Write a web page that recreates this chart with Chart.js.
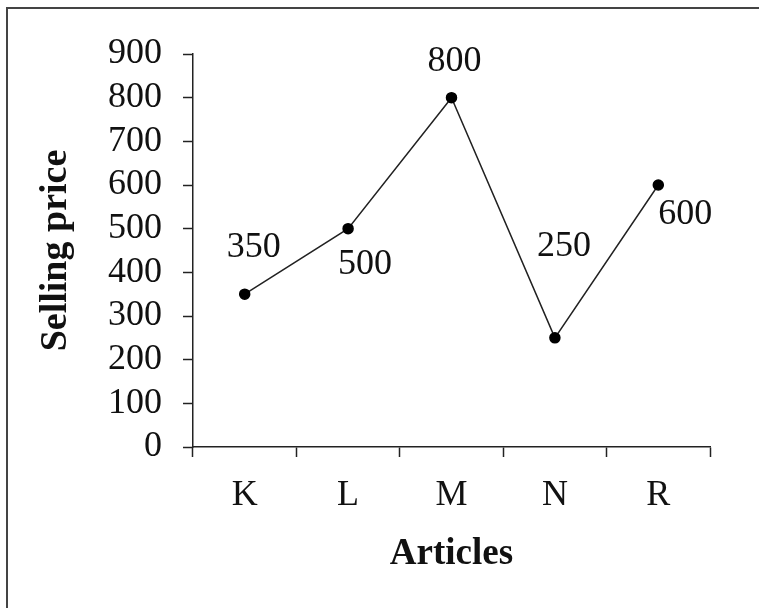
<!DOCTYPE html>
<html>
<head>
<meta charset="utf-8">
<script src="https://cdn.jsdelivr.net/npm/chart.js@4/dist/chart.umd.min.js"></script>
<style>
  html, body { margin: 0; padding: 0; background: #fff; }
  #wrap { position: relative; width: 759px; height: 608px; overflow: hidden; }
  #frame {
    position: absolute; left: 6px; top: 7px; width: 800px; height: 700px;
    border-top: 2px solid #444; border-left: 2px solid #444;
    pointer-events: none;
  }
</style>
</head>
<body>
<div id="wrap">
  <canvas id="chart" width="759" height="608"></canvas>
  <div id="frame"></div>
</div>
<script>
// data
const articles = ['K', 'L', 'M', 'N', 'R'];
const sellingPrice = [350, 500, 800, 250, 600];
const yTicks = [0, 100, 200, 300, 400, 500, 600, 700, 800, 900];

// where each value label sits relative to its point (px)
const labelOffsets = [[9, -47], [17, 36], [3, -36], [9, -91], [27, 30]];

const serif = '"Liberation Serif", "Times New Roman", serif';

// draws the value next to each point
const valueLabels = {
    id: 'valueLabels',
    afterDatasetsDraw(chart) {
        const ctx = chart.ctx;
        const meta = chart.getDatasetMeta(0);
        ctx.save();
        ctx.font = '36px ' + serif;
        ctx.fillStyle = '#111';
        ctx.textAlign = 'center';
        ctx.textBaseline = 'middle';
        meta.data.forEach((pt, i) => {
            const off = labelOffsets[i];
            ctx.fillText(String(sellingPrice[i]), pt.x + off[0], pt.y + off[1]);
        });
        ctx.restore();
    }
};

new Chart(document.getElementById('chart'), {
    type: 'line',
    data: {
        labels: articles,
        datasets: [{
            label: 'Selling price',
            data: sellingPrice,
            borderColor: '#222',
            borderWidth: 1.5,
            pointBackgroundColor: '#000',
            pointBorderColor: '#000',
            pointRadius: 5,
            tension: 0
        }]
    },
    options: {
        responsive: false,
        animation: false,
        layout: {
            padding: { left: 0, top: 54, right: 49, bottom: 0 }
        },
        plugins: {
            legend: { display: false },
            tooltip: { enabled: false }
        },
        scales: {
            x: {
                offset: true,
                grid: {
                    offset: true,
                    drawOnChartArea: false,
                    drawTicks: true,
                    tickLength: 10,
                    tickColor: '#222',
                    tickWidth: 1.5
                },
                border: { display: true, color: '#222', width: 1.5 },
                ticks: {
                    color: '#111',
                    padding: 17,
                    autoSkip: false,
                    maxRotation: 0,
                    font: { family: serif, size: 36 }
                },
                title: {
                    display: true,
                    text: 'Articles',
                    color: '#111',
                    padding: { top: 0, bottom: 31 },
                    font: { family: serif, size: 37, weight: 'bold' }
                },
                afterFit(scale) { scale.height = 161; }
            },
            y: {
                min: 0,
                max: 900,
                afterBuildTicks(scale) {
                    scale.ticks = yTicks.map(v => ({ value: v }));
                },
                grid: {
                    drawOnChartArea: false,
                    drawTicks: true,
                    tickLength: 10,
                    tickColor: '#222',
                    tickWidth: 1.5
                },
                border: { display: true, color: '#222', width: 1.5 },
                ticks: {
                    color: '#111',
                    padding: 21,
                    autoSkip: false,
                    font: { family: serif, size: 36 }
                },
                title: {
                    display: true,
                    text: 'Selling price',
                    color: '#111',
                    padding: { top: 33, bottom: 0 },
                    font: { family: serif, size: 38, weight: 'bold' }
                },
                afterFit(scale) { scale.width = 193; }
            }
        }
    },
    plugins: [valueLabels]
});
</script>
</body>
</html>
